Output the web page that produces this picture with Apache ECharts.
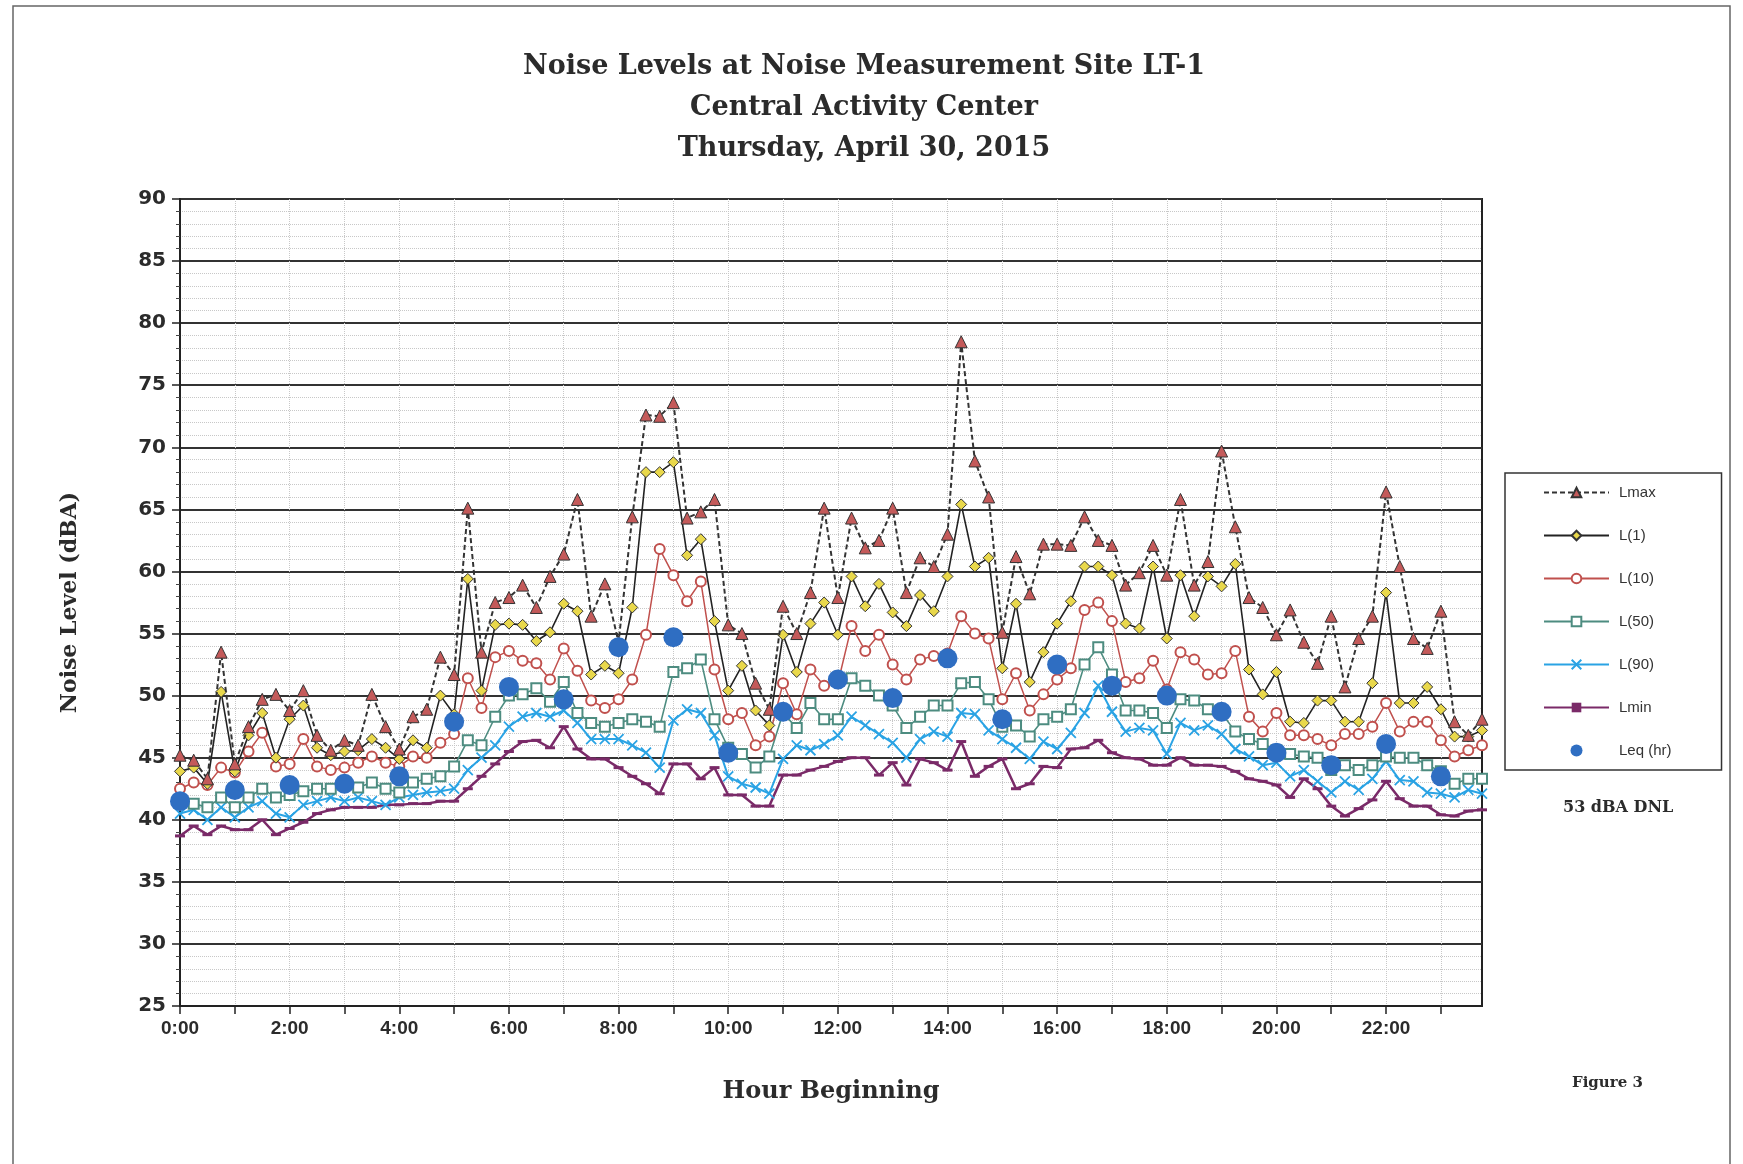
<!DOCTYPE html>
<html>
<head>
<meta charset="utf-8">
<script src="https://cdn.jsdelivr.net/npm/echarts@6/dist/echarts.min.js"></script>
<style>html,body{margin:0;padding:0;background:#fff}#c{width:1743px;height:1164px}</style>
</head>
<body>
<div id="c"></div>
<script>
const times = ['0:00','0:15','0:30','0:45','1:00','1:15','1:30','1:45','2:00','2:15','2:30','2:45','3:00','3:15','3:30','3:45',
'4:00','4:15','4:30','4:45','5:00','5:15','5:30','5:45','6:00','6:15','6:30','6:45','7:00','7:15','7:30','7:45',
'8:00','8:15','8:30','8:45','9:00','9:15','9:30','9:45','10:00','10:15','10:30','10:45','11:00','11:15','11:30','11:45',
'12:00','12:15','12:30','12:45','13:00','13:15','13:30','13:45','14:00','14:15','14:30','14:45','15:00','15:15','15:30','15:45',
'16:00','16:15','16:30','16:45','17:00','17:15','17:30','17:45','18:00','18:15','18:30','18:45','19:00','19:15','19:30','19:45',
'20:00','20:15','20:30','20:45','21:00','21:15','21:30','21:45','22:00','22:15','22:30','22:45','23:00','23:15','23:30','23:45'];

const lmax = [45.2,44.8,43.3,53.5,44.5,47.5,49.7,50.1,48.8,50.4,46.8,45.6,46.4,46.0,50.1,47.5,
45.7,48.3,48.9,53.1,51.7,65.1,53.5,57.5,57.9,58.9,57.1,59.6,61.4,65.8,56.4,59.0,
54.3,64.4,72.6,72.5,73.6,64.3,64.8,65.8,55.7,55.0,51.0,48.9,57.2,55.0,58.3,65.1,
57.9,64.3,61.9,62.5,65.1,58.3,61.1,60.4,63.0,78.5,68.9,66.0,55.1,61.2,58.2,62.2,
62.2,62.1,64.4,62.5,62.1,58.9,59.9,62.1,59.7,65.8,58.9,60.8,69.7,63.6,57.9,57.1,
54.9,56.9,54.3,52.6,56.4,50.7,54.6,56.4,66.4,60.4,54.6,53.8,56.8,47.9,46.8,48.1];

const l1 = [43.9,44.2,42.9,50.3,43.9,46.8,48.6,45.0,48.1,49.2,45.8,45.2,45.5,45.6,46.5,45.8,
44.9,46.4,45.8,50.0,48.5,59.4,50.4,55.7,55.8,55.7,54.4,55.1,57.4,56.8,51.7,52.4,
51.8,57.1,68.0,68.0,68.8,61.3,62.6,56.0,50.4,52.4,48.8,47.6,54.9,51.9,55.8,57.5,
54.9,59.6,57.2,59.0,56.7,55.6,58.1,56.8,59.6,65.4,60.4,61.1,52.2,57.4,51.1,53.5,
55.8,57.6,60.4,60.4,59.7,55.8,55.4,60.4,54.6,59.7,56.4,59.6,58.8,60.6,52.1,50.1,
51.9,47.9,47.8,49.6,49.6,47.9,47.9,51.0,58.3,49.4,49.4,50.7,48.9,46.7,46.7,47.2];

const l10 = [42.5,43.0,42.8,44.2,43.8,45.5,47.0,44.3,44.5,46.5,44.3,44.0,44.2,44.6,45.1,44.6,
44.3,45.1,45.0,46.2,46.9,51.4,49.0,53.1,53.6,52.8,52.6,51.3,53.8,52.0,49.6,49.0,
49.7,51.3,54.9,61.8,59.7,57.6,59.2,52.1,48.1,48.6,46.0,46.7,51.0,48.5,52.1,50.8,
51.0,55.6,53.6,54.9,52.5,51.3,52.9,53.2,53.4,56.4,55.0,54.6,49.7,51.8,48.8,50.1,
51.3,52.2,56.9,57.5,56.0,51.1,51.4,52.8,50.5,53.5,52.9,51.7,51.8,53.6,48.3,47.1,
48.6,46.8,46.8,46.5,46.0,46.9,46.9,47.5,49.4,47.1,47.9,47.9,46.4,45.1,45.6,46.0];

const l50 = [41.5,41.3,41.0,41.8,41.0,41.8,42.5,41.8,42.0,42.3,42.5,42.5,42.8,42.6,43.0,42.5,
42.2,43.0,43.3,43.5,44.3,46.4,46.0,48.3,50.0,50.1,50.6,49.5,51.1,48.6,47.8,47.5,
47.8,48.1,47.9,47.5,51.9,52.2,52.9,48.1,45.8,45.3,44.2,45.1,48.6,47.4,49.4,48.1,
48.1,51.4,50.8,50.0,49.2,47.4,48.3,49.2,49.2,51.0,51.1,49.7,47.5,47.6,46.7,48.1,
48.3,48.9,52.5,53.9,51.7,48.8,48.8,48.6,47.4,49.7,49.6,48.9,48.6,47.1,46.5,46.1,
45.6,45.3,45.1,45.0,44.0,44.4,44.0,44.4,45.1,45.0,45.0,44.4,43.9,42.9,43.3,43.3];

const l90 = [40.5,40.8,40.0,41.0,40.2,41.0,41.5,40.5,40.2,41.2,41.5,41.8,41.5,41.8,41.5,41.2,
41.8,42.0,42.2,42.3,42.5,44.0,45.0,46.0,47.5,48.3,48.6,48.3,48.8,47.8,46.5,46.5,
46.5,46.0,45.4,44.2,48.0,48.9,48.6,46.8,43.5,42.9,42.6,42.1,44.9,46.0,45.6,46.1,
46.8,48.3,47.6,46.9,46.2,45.0,46.5,47.1,46.7,48.6,48.5,47.2,46.5,45.8,44.9,46.3,
45.7,47.0,48.6,50.8,48.7,47.1,47.4,47.2,45.3,47.8,47.2,47.6,46.9,45.7,45.1,44.4,
44.6,43.5,44.0,43.1,42.2,43.1,42.4,43.3,44.7,43.2,43.1,42.2,42.1,41.8,42.4,42.1];

const lmin = [38.7,39.5,38.8,39.5,39.2,39.2,40.0,38.8,39.3,39.8,40.5,40.8,41.0,41.0,41.0,41.2,
41.2,41.3,41.3,41.5,41.5,42.5,43.5,44.5,45.5,46.3,46.4,45.8,47.5,45.7,44.9,44.9,
44.2,43.5,42.9,42.1,44.5,44.5,43.3,44.2,42.0,42.0,41.1,41.1,43.6,43.6,44.0,44.3,
44.7,45.0,45.0,43.6,44.6,42.8,44.9,44.6,44.0,46.3,43.5,44.3,44.9,42.5,42.9,44.3,
44.2,45.7,45.8,46.4,45.4,45.0,44.9,44.4,44.4,45.0,44.4,44.4,44.3,43.9,43.3,43.1,
42.8,41.8,43.3,42.5,41.1,40.3,40.9,41.6,43.1,41.7,41.1,41.1,40.4,40.3,40.7,40.8];

const leqHours = ['0:00','1:00','2:00','3:00','4:00','5:00','6:00','7:00','8:00','9:00','10:00','11:00',
'12:00','13:00','14:00','15:00','16:00','17:00','18:00','19:00','20:00','21:00','22:00','23:00'];
const leq = [41.5,42.4,42.8,42.9,43.5,47.9,50.7,49.7,53.9,54.7,45.4,48.7,
51.3,49.8,53.0,48.1,52.5,50.8,50.0,48.7,45.4,44.4,46.1,43.5];

const serif = 'DejaVu Serif';
const chart = echarts.init(document.getElementById('c'), null, {renderer:'canvas'});
const option = {
  animation:false,
  backgroundColor:'#ffffff',
  title:{
    text:'Noise Levels at Noise Measurement Site LT-1\nCentral Activity Center\nThursday, April 30, 2015',
    left:859, top:41, textAlign:'center',
    textStyle:{fontFamily:serif, fontWeight:'bold', fontSize:27, lineHeight:41, color:'#2b2b2b'}
  },
  grid:{left:180, right:261, top:199, bottom:158, show:true, borderColor:'#222', borderWidth:2},
  legend:{
    orient:'vertical', left:1505, top:473,
    padding:[12,50,12,38], itemWidth:65, itemHeight:12, itemGap:28,
    borderColor:'#333', borderWidth:1.5,
    textStyle:{fontFamily:'Liberation Sans', fontSize:15, color:'#333', padding:[0,0,0,5]},
    data:['Lmax','L(1)','L(10)','L(50)','L(90)','Lmin','Leq (hr)']
  },
  xAxis:{
    type:'category', data:times, boundaryGap:false,
    axisLine:{lineStyle:{color:'#222', width:2}},
    axisTick:{interval:3, length:8, lineStyle:{color:'#222', width:1.5}},
    axisLabel:{interval:7, margin:13, fontFamily:'Liberation Sans', fontWeight:'bold', fontSize:19, color:'#2b2b2b'},
    splitLine:{show:true, interval:3, lineStyle:{color:'#c8c8c8', type:'dotted', width:1}},
    name:'Hour Beginning', nameLocation:'middle', nameGap:74,
    nameTextStyle:{fontFamily:serif, fontWeight:'bold', fontSize:24, color:'#2b2b2b'}
  },
  yAxis:{
    type:'value', min:25, max:90, interval:5,
    axisLine:{show:true, lineStyle:{color:'#222', width:2}},
    axisTick:{show:true, length:8, lineStyle:{color:'#222', width:1.5}},
    minorTick:{show:true, splitNumber:5, length:4, lineStyle:{color:'#444'}},
    minorSplitLine:{show:true, lineStyle:{color:'#c8c8c8', type:'dotted', width:1}},
    splitLine:{show:true, lineStyle:{color:'#333', width:2}},
    axisLabel:{margin:14, fontFamily:'DejaVu Sans', fontWeight:'bold', fontSize:20, color:'#2b2b2b'},
    name:'Noise Level (dBA)', nameLocation:'middle', nameGap:99, nameRotate:90,
    nameTextStyle:{fontFamily:serif, fontWeight:'bold', fontSize:22, color:'#2b2b2b'}
  },
  series:[
    {name:'Lmax', type:'line', data:lmax, z:7, symbol:'triangle', symbolSize:12, showAllSymbol:true,
     lineStyle:{color:'#333', width:2, type:[5,3]},
     itemStyle:{color:'#c45a5a', borderColor:'#333', borderWidth:1}},
    {name:'L(1)', type:'line', data:l1, z:6, symbol:'diamond', symbolSize:11, showAllSymbol:true,
     lineStyle:{color:'#222', width:1.6},
     itemStyle:{color:'#e9d84b', borderColor:'#333', borderWidth:1}},
    {name:'L(10)', type:'line', data:l10, z:5, symbol:'emptyCircle', symbolSize:10, showAllSymbol:true,
     lineStyle:{color:'#c0504d', width:1.5},
     itemStyle:{color:'#c0504d', borderWidth:1.5}},
    {name:'L(50)', type:'line', data:l50, z:4, symbol:'emptyRect', symbolSize:10, showAllSymbol:true,
     lineStyle:{color:'#4d8c80', width:1.6},
     itemStyle:{color:'#4d8c80', borderWidth:1.5}},
    {name:'L(90)', type:'line', data:l90, z:3, symbol:'path://M0,0L10,10M10,0L0,10', symbolSize:10, showAllSymbol:true,
     lineStyle:{color:'#2aa3e4', width:2},
     itemStyle:{color:'#2aa3e4', borderColor:'#2aa3e4', borderWidth:1.8}},
    {name:'Lmin', type:'line', data:lmin, z:2, symbol:'rect', symbolSize:[10,3], showAllSymbol:true,
     lineStyle:{color:'#7a2a68', width:2.5},
     itemStyle:{color:'#7a2a68'}},
    {name:'Leq (hr)', type:'scatter', z:8, symbol:'circle', symbolSize:20,
     data:leqHours.map((h,k)=>[h, leq[k]]),
     itemStyle:{color:'#2f6ec2', opacity:1}}
  ],
  graphic:[
    {type:'polyline', shape:{points:[[13,1164],[13,6],[1730,6],[1730,1164]]}, style:{stroke:'#666', lineWidth:1.5, fill:null}},
    {type:'text', left:1563, top:800, style:{text:'53 dBA DNL', font:'bold 16px "DejaVu Serif"', fill:'#2b2b2b'}},
    {type:'text', left:1572, top:1076, style:{text:'Figure 3', font:'bold 15px "DejaVu Serif"', fill:'#2b2b2b'}}
  ]
};
chart.setOption(option);
</script>
</body>
</html>
